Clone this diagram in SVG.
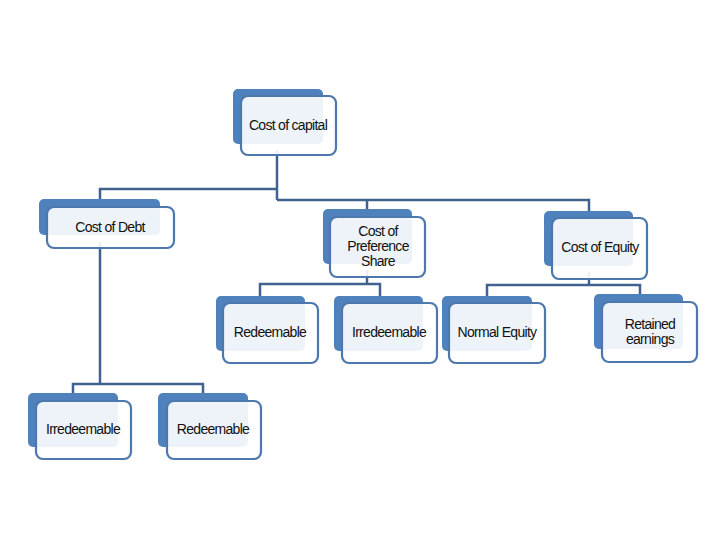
<svg xmlns="http://www.w3.org/2000/svg" width="720" height="540" viewBox="0 0 720 540">
<style>
.bk{fill:#4F81BD}
.fr{fill:#ffffff;fill-opacity:0.9;stroke:#4C78AE;stroke-width:2.2}
.cn{fill:none;stroke:#41628E;stroke-width:2.5}
text{font-family:"Liberation Sans",Arial,sans-serif;font-size:14px;letter-spacing:-0.7px;fill:#111;text-anchor:middle}
</style>
<rect width="720" height="540" fill="#ffffff"/>
<g id="connectors">
<path class="cn" d="M277 150 V200"/>
<path class="cn" d="M277 189 H100 V203"/>
<path class="cn" d="M277 200 H589 V214"/>
<path class="cn" d="M367 200 V212"/>
<path class="cn" d="M367 270 V284"/>
<path class="cn" d="M260 299 V284 H380 V299"/>
<path class="cn" d="M589 272 V285"/>
<path class="cn" d="M487 299 V285 H640 V297"/>
<path class="cn" d="M100 242 V384"/>
<path class="cn" d="M73 396 V384 H203 V396"/>
</g>
<g id="n-capital">
<rect class="bk" x="233" y="89" width="90" height="55" rx="5"/>
<rect class="fr" x="241" y="96" width="95" height="59" rx="7"/>
<text x="288" y="130">Cost of capital</text>
</g>
<g id="n-debt">
<rect class="bk" x="39" y="199" width="121" height="36" rx="5"/>
<rect class="fr" x="47" y="207" width="127" height="41" rx="7"/>
<text x="110" y="232">Cost of Debt</text>
</g>
<g id="n-pref">
<rect class="bk" x="323" y="209" width="89" height="55" rx="5"/>
<rect class="fr" x="330" y="217" width="95" height="60" rx="7"/>
<text x="378" y="236">Cost of</text>
<text x="378" y="251">Preference</text>
<text x="378" y="266">Share</text>
</g>
<g id="n-equity">
<rect class="bk" x="544" y="211" width="89" height="55" rx="5"/>
<rect class="fr" x="552" y="218" width="95" height="61" rx="7"/>
<text x="600" y="252">Cost of Equity</text>
</g>
<g id="n-pref-redeemable">
<rect class="bk" x="216" y="296" width="89" height="55" rx="5"/>
<rect class="fr" x="223" y="303" width="95" height="60" rx="7"/>
<text x="270" y="337">Redeemable</text>
</g>
<g id="n-pref-irredeemable">
<rect class="bk" x="334" y="296" width="89" height="55" rx="5"/>
<rect class="fr" x="342" y="303" width="95" height="60" rx="7"/>
<text x="389" y="337">Irredeemable</text>
</g>
<g id="n-normal-equity">
<rect class="bk" x="442" y="296" width="90" height="55" rx="5"/>
<rect class="fr" x="449" y="303" width="96" height="60" rx="7"/>
<text x="497" y="337">Normal Equity</text>
</g>
<g id="n-retained">
<rect class="bk" x="594" y="294" width="89" height="55" rx="5"/>
<rect class="fr" x="602" y="302" width="95" height="60" rx="7"/>
<text x="650" y="329">Retained</text>
<text x="650" y="344">earnings</text>
</g>
<g id="n-debt-irredeemable">
<rect class="bk" x="28" y="393" width="90" height="54" rx="5"/>
<rect class="fr" x="36" y="401" width="95" height="58" rx="7"/>
<text x="83" y="434">Irredeemable</text>
</g>
<g id="n-debt-redeemable">
<rect class="bk" x="158" y="393" width="90" height="54" rx="5"/>
<rect class="fr" x="167" y="401" width="94" height="58" rx="7"/>
<text x="213" y="434">Redeemable</text>
</g>
</svg>
